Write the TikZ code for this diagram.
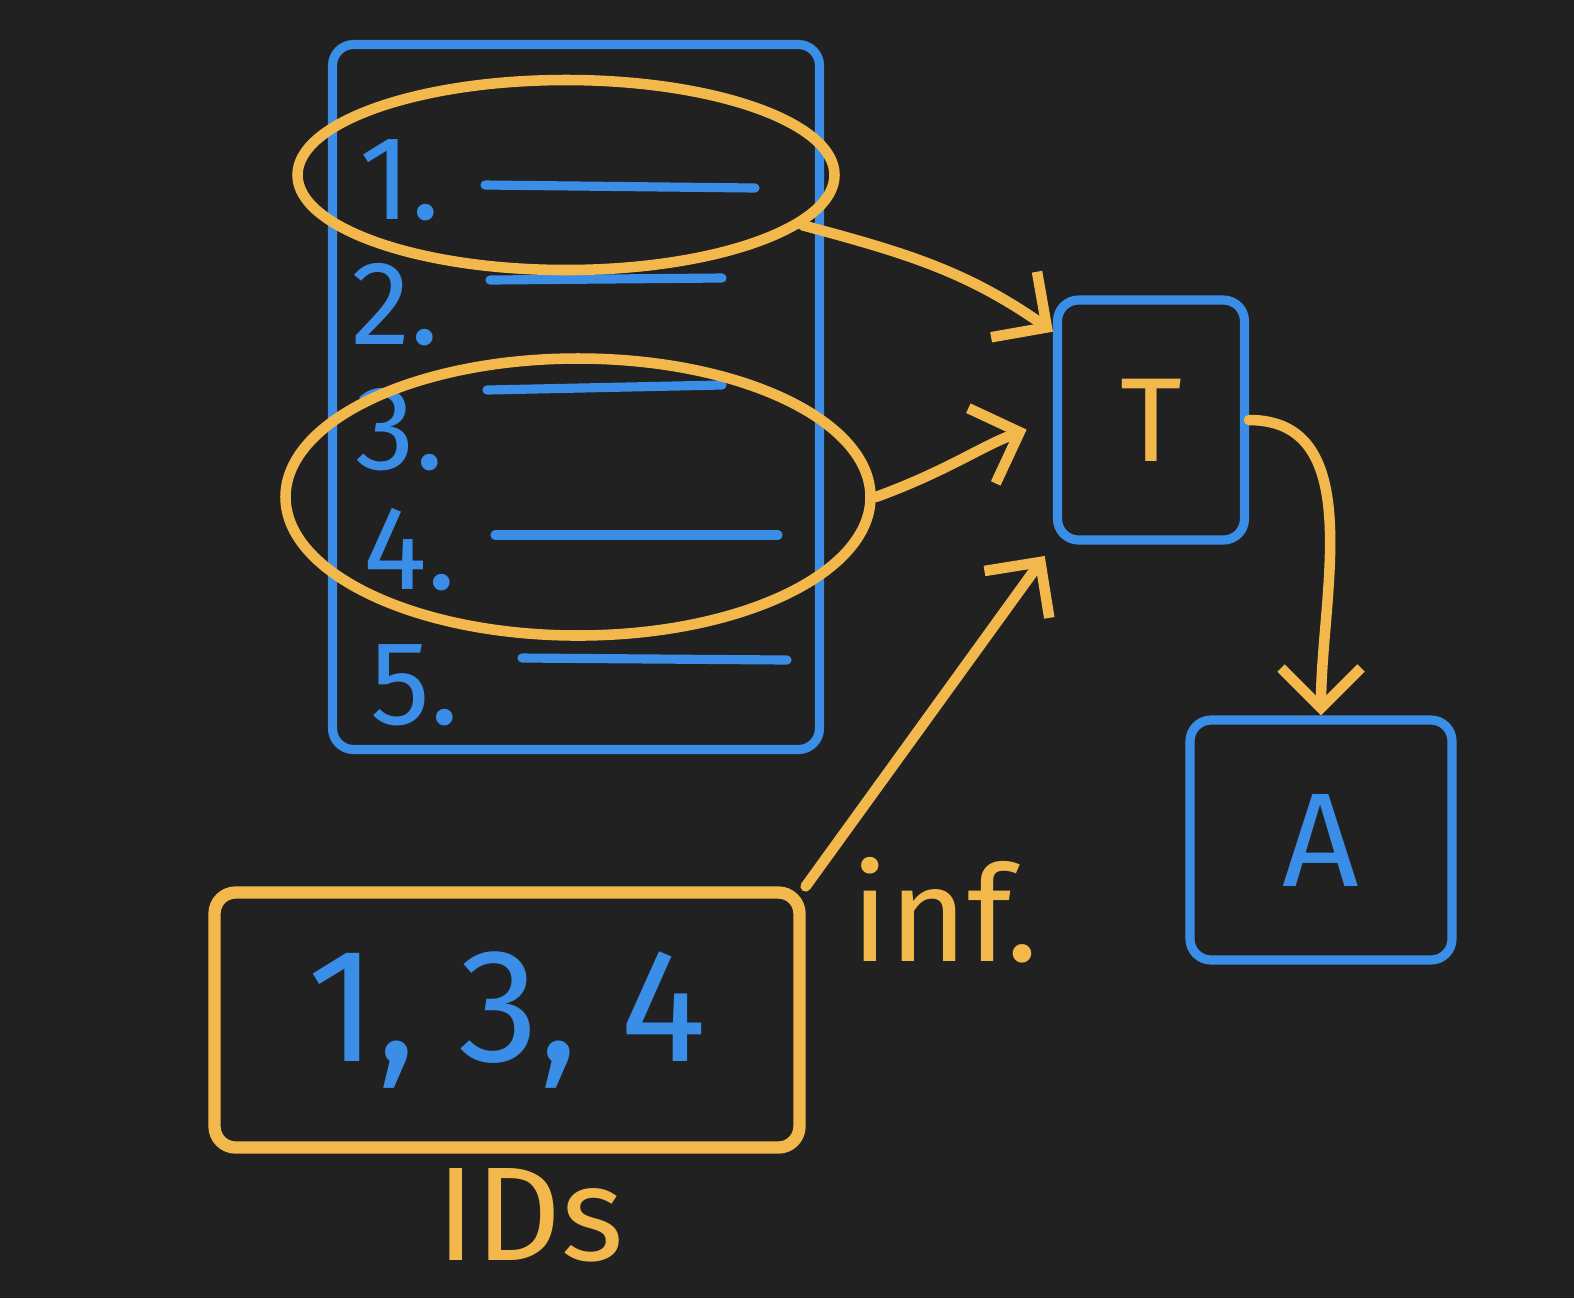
\documentclass[tikz,border=0pt]{standalone}
\usepackage{fontspec}
\setmainfont{Fira Sans}
\usetikzlibrary{shapes.geometric,arrows.meta}
\definecolor{board}{HTML}{212121}
\definecolor{pen}{HTML}{3A8EE8}
\definecolor{marker}{HTML}{F2B84B}

\begin{document}
\begin{tikzpicture}[line width=2.6pt, line cap=round, line join=round,
    list box/.style={draw=pen, rounded corners=6pt, minimum width=4.87cm, minimum height=7.05cm},
    item/.style={text=pen, font=\fontsize{34}{40}\selectfont},
    pick/.style={ellipse, draw=marker, line width=3pt},
    store/.style={draw=pen, rounded corners=6pt},
    note/.style={text=marker, font=\fontsize{38}{44}\selectfont},
    link/.style={draw=marker, line width=3pt, -{Straight Barb[length=4mm,width=8mm]}}]

    % Board
    \fill[board] (0,0) rectangle (15.74,-12.98);

    % List of entries
    \node[list box] (list) at (5.76,-3.97) {};
    \node[item] (n1) at (4.0,-1.8) {1.};
    \node[item] (n2) at (3.95,-3.05) {2.};
    \node[item] (n3) at (4.0,-4.3) {3.};
    \node[item] (n4) at (4.1,-5.5) {4.};
    \node[item] (n5) at (4.15,-6.85) {5.};

    \draw[pen] (4.85,-1.85) -- (7.55,-1.88);
    \draw[pen] (4.9,-2.8) -- (7.22,-2.78);
    \draw[pen] (4.87,-3.9) -- (7.22,-3.85);
    \draw[pen] (4.95,-5.35) -- (7.78,-5.35);
    \draw[pen] (5.22,-6.58) -- (7.87,-6.6);

    % Picked entries
    \node[pick, minimum width=5.37cm, minimum height=1.9cm] (sel1) at (5.66,-1.75) {};
    \node[pick, minimum width=5.85cm, minimum height=2.77cm] (sel2) at (5.78,-4.97) {};

    % Stores
    \node[store, minimum width=1.87cm, minimum height=2.4cm, text=marker,
          font=\fontsize{34}{40}\selectfont] (T) at (11.51,-4.2) {T};
    \node[store, minimum width=2.62cm, minimum height=2.4cm, text=pen,
          font=\fontsize{38}{44}\selectfont] (A) at (13.21,-8.4) {A};

    % Ids box
    \node[draw=marker, line width=3.5pt, rounded corners=6pt, text=pen,
          minimum width=5.85cm, minimum height=2.55cm,
          font=\fontsize{46}{52}\selectfont] (ids) at (5.07,-10.2) {1, 3, 4};
    \node[note] (idsname) at (5.3,-12.15) {IDs};
    \node[note] (inf) at (9.45,-9.1) {inf.};

    \draw[link] (sel1.-12) to[out=-15, in=145] (T.138);
    \draw[link, shorten >=0.28cm] (sel2.east) to[out=20, in=200] (T.west);
    \draw[link, shorten >=4pt] (ids.north east) -- (T.south west);
    \draw[link] (T.east) to[out=0, in=90] (A.north);

\end{tikzpicture}
\end{document}
